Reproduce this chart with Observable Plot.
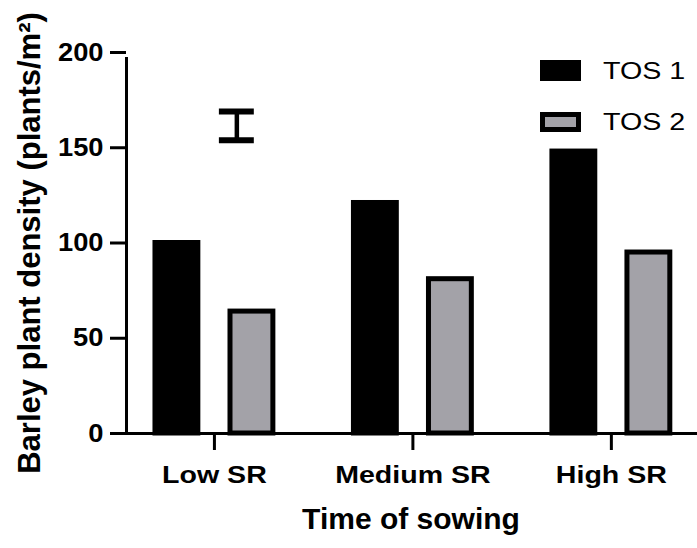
<!DOCTYPE html>
<html>
<head>
<meta charset="utf-8">
<script src="https://cdn.jsdelivr.net/npm/d3@7"></script>
<script src="https://cdn.jsdelivr.net/npm/@observablehq/plot@0.6"></script>
<style>
  html, body { margin: 0; padding: 0; background: #fff; }
  #wrap { position: relative; width: 697px; height: 548px; font-family: "Liberation Sans", Arial, sans-serif; }
  #wrap svg text { font-weight: bold; }
  .leg { position: absolute; display: flex; align-items: center; font-size: 24.7px; color: #000; }
  .leg span { display: inline-block; transform: scaleX(1.16); transform-origin: left center; }
  .sw { box-sizing: border-box; margin-right: 22px; }
</style>
</head>
<body>
<div id="wrap"></div>
<script>
// ---- data ----
const groups = ["Low SR", "Medium SR", "High SR"];
const seriesNames = ["TOS 1", "TOS 2"];
const tos1 = [100, 121, 148];
const tos2 = [64, 81, 95];
const errorBar = [154, 169];           // floating bar (low, high)
const yTicks = [0, 50, 100, 150, 200];
const seriesColors = ["#000000", "#a3a2a8"];

// ---- layout helpers (x in group units: one unit = one group step) ----
const xDomain = [-0.443, 2.434];
const offset = {"TOS 1": -0.189, "TOS 2": 0.189};
const halfW = 0.108;

const rows = groups.flatMap((g, i) => [
  {g, i, s: seriesNames[0], v: tos1[i]},
  {g, i, s: seriesNames[1], v: tos2[i]}
]);
const colorOf = Object.fromEntries(seriesNames.map((s, k) => [s, seriesColors[k]]));

const errX = 0.113, capHalf = 0.088;

const chart = Plot.plot({
  width: 697,
  height: 548,
  marginLeft: 126,
  marginRight: 0,
  marginTop: 52,
  marginBottom: 115,
  style: {fontFamily: '"Liberation Sans", Arial, sans-serif', background: "white", color: "black", overflow: "visible"},
  x: {domain: xDomain, axis: null},
  y: {domain: [0, 200], axis: null},
  marks: [
    Plot.rectY(rows, {
      x1: d => d.i + offset[d.s] - halfW,
      x2: d => d.i + offset[d.s] + halfW,
      y1: 0,
      y2: "v",
      fill: d => colorOf[d.s],
      stroke: "black",
      strokeWidth: 5
    }),
    Plot.ruleY([0], {stroke: "black", strokeWidth: 3}),
    Plot.ruleX([xDomain[0]], {y1: 0, y2: 200, stroke: "black", strokeWidth: 3, insetBottom: -5}),
    Plot.axisY({ticks: yTicks, tickSize: 16, tickPadding: 7, stroke: "black", strokeWidth: 3, fontSize: 25.5, fontWeight: "bold", label: null}),
    Plot.axisX({ticks: [0, 1, 2], tickFormat: i => groups[i], tickSize: 17, tickPadding: 15, stroke: "black", strokeWidth: 3, fontSize: 24, fontWeight: "bold", label: null}),
    // floating error bar
    Plot.ruleX([errX], {y1: errorBar[0], y2: errorBar[1], stroke: "black", strokeWidth: 4.5}),
    Plot.ruleY(errorBar, {x1: errX - capHalf, x2: errX + capHalf, stroke: "black", strokeWidth: 6}),
    // axis titles
    Plot.text(["Barley plant density (plants/m²)"], {frameAnchor: "left", textAnchor: "middle", rotate: -90, dx: -96, fontSize: 31, fontWeight: "bold", fill: "black"}),
    Plot.text(["Time of sowing"], {frameAnchor: "bottom", dy: 95.5, dx: -1, fontSize: 30, fontWeight: "bold", fill: "black"})
  ]
});

const wrap = document.getElementById("wrap");
wrap.appendChild(chart);

// widen glyphs horizontally to match the reference's letterforms
function stretch(sel, k) {
  d3.select(chart).selectAll(sel).each(function () {
    const w = this.getComputedTextLength();
    this.setAttribute("textLength", (w * k).toFixed(1));
    this.setAttribute("lengthAdjust", "spacingAndGlyphs");
  });
}
stretch("g[aria-label='x-axis tick label'] text", 1.19);
stretch("g[aria-label='y-axis tick label'] text", 1.07);

// legend
const legBoxes = [{top: 60, h: 21}, {top: 112, h: 20}];
seriesNames.forEach((s, k) => {
  const item = document.createElement("div");
  item.className = "leg";
  item.style.left = "540px";
  item.style.top = (legBoxes[k].top - 8) + "px";
  item.style.height = (legBoxes[k].h + 16) + "px";
  const sw = document.createElement("div");
  sw.className = "sw";
  sw.style.width = "41px";
  sw.style.height = legBoxes[k].h + "px";
  sw.style.background = seriesColors[k];
  sw.style.border = "5px solid #000";
  const t = document.createElement("span");
  t.textContent = s;
  item.appendChild(sw);
  item.appendChild(t);
  wrap.appendChild(item);
});
</script>
</body>
</html>
